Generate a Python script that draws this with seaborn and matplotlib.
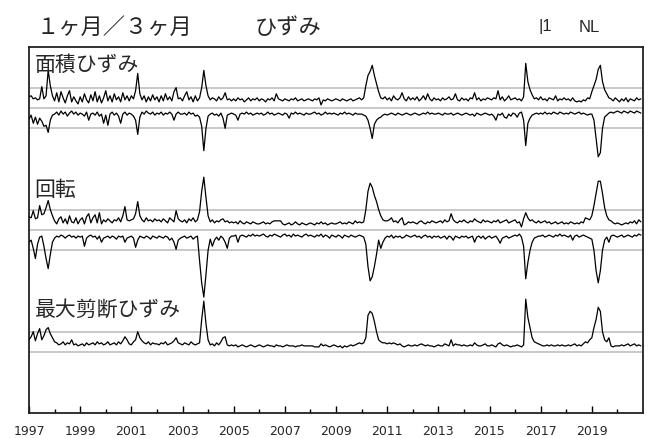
import matplotlib
matplotlib.use("Agg")
import matplotlib.pyplot as plt
import numpy as np
import pandas as pd
import seaborn as sns

# monthly values, Jan 1997 - Dec 2020, one row per year
# offsets from each trace's zero line (1 unit = spacing of the grey guide lines)
area_pos = [
    [0.55, 0.6, 0.45, 0.5, 0.4, 0.45, 1.05, 0.45, 0.6, 1.85, 1.1, 0.6],
    [0.35, 0.75, 0.3, 0.8, 0.5, 0.25, 0.6, 0.85, 0.3, 0.55, 0.35, 0.2],
    [0.55, 0.3, 0.7, 0.4, 0.25, 0.65, 0.35, 0.8, 0.3, 0.6, 0.25, 0.5],
    [0.85, 0.35, 0.6, 0.3, 0.7, 0.4, 0.55, 0.3, 0.75, 0.4, 0.6, 0.35],
    [0.6, 0.45, 0.85, 1.7, 0.7, 0.4, 0.6, 0.3, 0.55, 0.35, 0.65, 0.4],
    [0.55, 0.3, 0.6, 0.35, 0.7, 0.4, 0.55, 0.35, 0.8, 1.0, 0.45, 0.5],
    [0.35, 0.6, 0.8, 0.4, 0.55, 0.3, 0.6, 0.35, 0.5, 1.0, 1.85, 1.1],
    [0.6, 0.4, 0.5, 0.45, 0.35, 0.55, 0.4, 0.5, 0.75, 0.4, 0.45, 0.35],
    [0.45, 0.35, 0.5, 0.4, 0.45, 0.3, 0.4, 0.5, 0.35, 0.45, 0.4, 0.5],
    [0.35, 0.45, 0.4, 0.3, 0.45, 0.4, 0.5, 0.35, 0.7, 0.45, 0.4, 0.35],
    [0.45, 0.4, 0.35, 0.45, 0.4, 0.5, 0.35, 0.4, 0.45, 0.35, 0.4, 0.45],
    [0.4, 0.35, 0.45, 0.4, 0.5, 0.15, 0.4, 0.35, 0.45, 0.4, 0.35, 0.4],
    [0.45, 0.4, 0.35, 0.45, 0.4, 0.35, 0.4, 0.45, 0.35, 0.4, 0.45, 0.5],
    [0.4, 0.5, 1.1, 1.6, 1.8, 2.1, 1.6, 1.2, 0.8, 0.5, 0.45, 0.55],
    [0.4, 0.5, 0.35, 0.6, 0.45, 0.4, 0.5, 0.75, 0.45, 0.35, 0.55, 0.4],
    [0.5, 0.4, 0.55, 0.35, 0.45, 0.6, 0.4, 0.7, 0.45, 0.35, 0.5, 0.4],
    [0.45, 0.35, 0.5, 0.4, 0.45, 0.55, 0.4, 0.45, 0.7, 0.4, 0.35, 0.5],
    [0.4, 0.45, 0.35, 0.5, 0.45, 0.75, 0.4, 0.5, 0.35, 0.45, 0.4, 0.5],
    [0.45, 0.4, 0.5, 0.45, 0.85, 0.4, 0.55, 0.35, 0.45, 0.6, 0.4, 0.45],
    [0.5, 0.4, 0.45, 0.35, 0.55, 2.2, 1.3, 0.9, 0.65, 0.45, 0.5, 0.4],
    [0.55, 0.4, 0.45, 0.35, 0.5, 0.45, 0.4, 0.6, 0.35, 0.45, 0.4, 0.5],
    [0.4, 0.45, 0.35, 0.5, 0.35, 0.3, 0.35, 0.3, 0.4, 0.35, 0.5, 0.45],
    [0.8, 1.1, 1.4, 1.9, 2.1, 1.3, 0.9, 0.7, 0.5, 0.45, 0.35, 0.5],
    [0.4, 0.3, 0.45, 0.35, 0.5, 0.3, 0.45, 0.4, 0.35, 0.5, 0.4, 0.45],
]
area_neg = [
    [-0.55, -0.35, -0.75, -0.45, -0.8, -0.5, -0.65, -0.9, -0.85, -1.2, -0.6, -0.35],
    [-0.3, -0.2, -0.35, -0.15, -0.3, -0.2, -0.4, -0.25, -0.15, -0.3, -0.2, -0.35],
    [-0.25, -0.3, -0.4, -0.2, -0.6, -0.3, -0.25, -0.35, -0.2, -0.4, -0.3, -0.75],
    [-0.35, -0.85, -0.3, -0.2, -0.35, -0.25, -0.4, -0.75, -0.3, -0.2, -0.35, -0.25],
    [-0.3, -0.4, -0.6, -1.3, -0.45, -0.2, -0.3, -0.15, -0.25, -0.3, -0.2, -0.35],
    [-0.25, -0.3, -0.2, -0.35, -0.25, -0.3, -0.2, -0.3, -0.6, -0.3, -0.2, -0.3],
    [-0.3, -0.25, -0.35, -0.2, -0.3, -0.25, -0.4, -0.35, -0.45, -0.9, -2.1, -1.0],
    [-0.4, -0.3, -0.25, -0.35, -0.3, -0.4, -0.25, -0.5, -1.0, -0.35, -0.3, -0.25],
    [-0.3, -0.35, -0.6, -0.3, -0.25, -0.3, -0.2, -0.3, -0.25, -0.35, -0.3, -0.25],
    [-0.3, -0.25, -0.35, -0.3, -0.2, -0.3, -0.25, -0.35, -0.3, -0.25, -0.3, -0.35],
    [-0.25, -0.3, -0.5, -0.25, -0.3, -0.2, -0.3, -0.25, -0.3, -0.35, -0.25, -0.3],
    [-0.3, -0.25, -0.2, -0.3, -0.25, -0.35, -0.3, -0.2, -0.3, -0.25, -0.3, -0.25],
    [-0.3, -0.35, -0.25, -0.3, -0.2, -0.3, -0.25, -0.3, -0.35, -0.25, -0.3, -0.3],
    [-0.3, -0.35, -0.4, -0.6, -1.0, -1.5, -0.8, -0.6, -0.5, -0.45, -0.35, -0.3],
    [-0.35, -0.3, -0.25, -0.3, -0.35, -0.25, -0.3, -0.35, -0.3, -0.25, -0.3, -0.35],
    [-0.3, -0.25, -0.3, -0.35, -0.3, -0.25, -0.3, -0.2, -0.3, -0.25, -0.3, -0.3],
    [-0.25, -0.3, -0.35, -0.25, -0.3, -0.3, -0.25, -0.35, -0.3, -0.25, -0.3, -0.35],
    [-0.3, -0.25, -0.3, -0.35, -0.3, -0.4, -0.25, -0.3, -0.35, -0.3, -0.25, -0.3],
    [-0.35, -0.3, -0.4, -0.6, -0.3, -0.35, -0.25, -0.45, -0.5, -0.3, -0.4, -0.25],
    [-0.3, -0.45, -0.25, -0.2, -0.6, -1.85, -0.75, -0.5, -0.35, -0.3, -0.25, -0.3],
    [-0.25, -0.3, -0.2, -0.3, -0.25, -0.3, -0.2, -0.25, -0.3, -0.2, -0.25, -0.3],
    [-0.25, -0.3, -0.2, -0.25, -0.3, -0.25, -0.2, -0.3, -0.25, -0.3, -0.35, -0.3],
    [-0.3, -0.6, -1.5, -2.4, -2.2, -1.0, -0.45, -0.35, -0.25, -0.2, -0.25, -0.2],
    [-0.15, -0.2, -0.25, -0.15, -0.2, -0.25, -0.15, -0.2, -0.25, -0.15, -0.2, -0.25],
]
rot_pos = [
    [0.65, 0.6, 0.95, 0.55, 0.6, 1.2, 0.75, 0.8, 1.1, 1.45, 1.0, 0.7],
    [0.45, 0.3, 0.55, 0.65, 0.35, 0.55, 0.3, 0.7, 0.4, 0.35, 0.6, 0.3],
    [0.5, 0.6, 0.3, 0.65, 0.8, 0.35, 0.6, 0.75, 0.35, 0.85, 0.3, 0.5],
    [0.4, 0.55, 0.45, 0.35, 0.5, 0.45, 0.6, 0.4, 0.7, 1.15, 0.5, 0.45],
    [0.5, 0.55, 0.8, 1.4, 0.7, 0.5, 0.4, 0.6, 0.45, 0.5, 0.4, 0.55],
    [0.45, 0.5, 0.4, 0.55, 0.45, 0.35, 0.6, 0.5, 0.4, 0.95, 0.55, 0.45],
    [0.4, 0.5, 0.35, 0.55, 0.45, 0.6, 0.4, 0.5, 0.9, 1.9, 2.6, 1.6],
    [0.7, 0.4, 0.5, 0.35, 0.45, 0.4, 0.5, 0.55, 0.4, 0.45, 0.35, 0.4],
    [0.35, 0.4, 0.3, 0.45, 0.35, 0.3, 0.4, 0.35, 0.3, 0.4, 0.35, 0.3],
    [0.3, 0.35, 0.4, 0.3, 0.35, 0.3, 0.4, 0.45, 0.45, 0.45, 0.45, 0.3],
    [0.25, 0.3, 0.35, 0.25, 0.3, 0.4, 0.3, 0.25, 0.35, 0.3, 0.25, 0.3],
    [0.35, 0.3, 0.25, 0.35, 0.3, 0.4, 0.3, 0.35, 0.25, 0.3, 0.35, 0.3],
    [0.3, 0.35, 0.4, 0.3, 0.35, 0.3, 0.4, 0.35, 0.3, 0.45, 0.35, 0.4],
    [0.35, 0.4, 1.0, 1.9, 2.3, 2.1, 1.7, 1.4, 1.0, 0.7, 0.5, 0.45],
    [0.45, 0.5, 0.6, 0.4, 0.45, 0.35, 0.5, 0.6, 0.25, 0.3, 0.4, 0.35],
    [0.4, 0.35, 0.3, 0.4, 0.45, 0.35, 0.3, 0.4, 0.35, 0.45, 0.4, 0.35],
    [0.4, 0.45, 0.35, 0.5, 0.4, 0.45, 0.8, 0.5, 0.4, 0.35, 0.45, 0.4],
    [0.5, 0.4, 0.35, 0.45, 0.4, 0.55, 0.45, 0.4, 0.35, 0.5, 0.4, 0.45],
    [0.4, 0.35, 0.45, 0.4, 0.5, 0.35, 0.4, 0.45, 0.5, 0.35, 0.4, 0.45],
    [0.5, 0.35, 0.4, 0.15, 0.55, 0.85, 0.6, 0.45, 0.5, 0.4, 0.35, 0.45],
    [0.35, 0.4, 0.45, 0.35, 0.4, 0.3, 0.35, 0.4, 0.3, 0.35, 0.4, 0.3],
    [0.35, 0.3, 0.4, 0.35, 0.3, 0.35, 0.3, 0.4, 0.35, 0.6, 0.55, 0.5],
    [0.7, 1.2, 1.8, 2.4, 2.4, 1.8, 1.1, 0.7, 0.5, 0.45, 0.35, 0.3],
    [0.35, 0.3, 0.25, 0.3, 0.35, 0.3, 0.4, 0.35, 0.45, 0.3, 0.5, 0.4],
]
rot_neg = [
    [-0.6, -0.5, -0.9, -1.4, -0.7, -0.35, -0.3, -0.8, -1.4, -1.9, -1.2, -0.6],
    [-0.4, -0.3, -0.35, -0.25, -0.3, -0.4, -0.3, -0.25, -0.35, -0.3, -0.4, -0.3],
    [-0.35, -0.3, -0.8, -0.4, -0.3, -0.25, -0.35, -0.3, -0.45, -0.3, -0.6, -0.4],
    [-0.35, -0.3, -0.4, -0.3, -0.35, -0.45, -0.3, -0.35, -0.3, -0.6, -0.4, -0.35],
    [-0.3, -0.4, -0.85, -0.5, -0.3, -0.35, -0.4, -0.3, -0.35, -0.45, -0.3, -0.35],
    [-0.4, -0.3, -0.35, -0.4, -0.3, -0.35, -0.5, -0.4, -0.6, -0.95, -0.5, -0.4],
    [-0.35, -0.3, -0.4, -0.35, -0.3, -0.45, -0.35, -0.3, -1.5, -2.6, -3.3, -2.2],
    [-1.0, -0.45, -0.8, -0.5, -0.35, -0.5, -0.3, -0.4, -0.6, -0.9, -0.4, -0.3],
    [-0.3, -0.25, -0.6, -0.3, -0.25, -0.3, -0.35, -0.25, -0.3, -0.2, -0.3, -0.25],
    [-0.3, -0.25, -0.2, -0.3, -0.35, -0.25, -0.3, -0.2, -0.25, -0.3, -0.35, -0.25],
    [-0.2, -0.3, -0.25, -0.35, -0.2, -0.3, -0.25, -0.3, -0.35, -0.25, -0.2, -0.3],
    [-0.25, -0.3, -0.35, -0.25, -0.3, -0.2, -0.35, -0.25, -0.3, -0.4, -0.25, -0.3],
    [-0.35, -0.25, -0.3, -0.4, -0.25, -0.3, -0.35, -0.25, -0.3, -0.35, -0.3, -0.25],
    [-0.3, -0.35, -0.7, -1.8, -2.5, -2.3, -1.8, -1.2, -0.5, -0.9, -0.6, -0.4],
    [-0.3, -0.35, -0.25, -0.4, -0.3, -0.35, -0.3, -0.4, -0.35, -0.25, -0.3, -0.35],
    [-0.3, -0.25, -0.35, -0.3, -0.4, -0.3, -0.25, -0.35, -0.3, -0.4, -0.3, -0.35],
    [-0.3, -0.4, -0.35, -0.3, -0.45, -0.3, -0.35, -0.5, -0.3, -0.35, -0.4, -0.3],
    [-0.35, -0.3, -0.4, -0.35, -0.3, -0.6, -0.35, -0.3, -0.4, -0.3, -0.45, -0.35],
    [-0.3, -0.4, -0.35, -0.3, -0.45, -0.65, -0.4, -0.35, -0.3, -0.4, -0.35, -0.3],
    [-0.25, -0.3, -0.2, -0.35, -0.8, -2.4, -1.6, -1.0, -0.6, -0.4, -0.35, -0.3],
    [-0.3, -0.25, -0.35, -0.3, -0.25, -0.3, -0.35, -0.25, -0.3, -0.2, -0.3, -0.25],
    [-0.3, -0.35, -0.25, -0.5, -0.3, -0.25, -0.35, -0.3, -0.25, -0.3, -0.35, -0.4],
    [-0.45, -1.0, -2.0, -2.6, -2.0, -1.0, -0.5, -0.35, -0.6, -0.3, -0.25, -0.3],
    [-0.35, -0.3, -0.25, -0.35, -0.3, -0.25, -0.3, -0.35, -0.25, -0.3, -0.2, -0.25],
]
shear = [
    [0.6, 0.75, 1.0, 0.55, 0.9, 1.15, 0.6, 0.8, 1.1, 1.2, 0.9, 0.7],
    [0.5, 0.45, 0.35, 0.4, 0.5, 0.35, 0.45, 0.4, 0.6, 0.35, 0.4, 0.3],
    [0.35, 0.4, 0.3, 0.45, 0.35, 0.4, 0.45, 0.35, 0.5, 0.4, 0.45, 0.35],
    [0.4, 0.5, 0.35, 0.4, 0.45, 0.35, 0.5, 0.4, 0.55, 0.75, 0.6, 0.4],
    [0.35, 0.5, 0.6, 1.0, 0.7, 0.55, 0.45, 0.4, 0.5, 0.35, 0.45, 0.4],
    [0.4, 0.35, 0.45, 0.4, 0.5, 0.35, 0.4, 0.45, 0.55, 0.7, 0.45, 0.4],
    [0.35, 0.45, 0.4, 0.35, 0.5, 0.4, 0.35, 0.4, 0.45, 1.6, 2.5, 1.4],
    [0.6, 0.35, 0.4, 0.3, 0.45, 0.35, 0.5, 0.7, 0.75, 0.35, 0.3, 0.35],
    [0.3, 0.35, 0.25, 0.3, 0.35, 0.3, 0.25, 0.3, 0.35, 0.3, 0.25, 0.3],
    [0.35, 0.3, 0.25, 0.3, 0.35, 0.3, 0.3, 0.25, 0.35, 0.3, 0.3, 0.25],
    [0.3, 0.35, 0.3, 0.3, 0.3, 0.25, 0.3, 0.3, 0.35, 0.3, 0.3, 0.3],
    [0.3, 0.3, 0.25, 0.25, 0.25, 0.4, 0.3, 0.35, 0.3, 0.25, 0.3, 0.35],
    [0.3, 0.25, 0.3, 0.2, 0.3, 0.25, 0.3, 0.35, 0.3, 0.35, 0.4, 0.45],
    [0.4, 0.45, 0.7, 1.8, 2.0, 1.9, 1.5, 1.0, 0.6, 0.5, 0.45, 0.45],
    [0.4, 0.45, 0.4, 0.45, 0.4, 0.35, 0.4, 0.3, 0.25, 0.3, 0.35, 0.3],
    [0.3, 0.35, 0.3, 0.35, 0.4, 0.35, 0.3, 0.35, 0.3, 0.3, 0.25, 0.3],
    [0.35, 0.3, 0.3, 0.4, 0.35, 0.3, 0.6, 0.3, 0.4, 0.35, 0.35, 0.3],
    [0.35, 0.3, 0.3, 0.35, 0.3, 0.45, 0.35, 0.3, 0.3, 0.35, 0.4, 0.3],
    [0.3, 0.35, 0.3, 0.25, 0.4, 0.45, 0.35, 0.3, 0.35, 0.3, 0.25, 0.3],
    [0.3, 0.35, 0.3, 0.25, 0.35, 2.6, 1.7, 1.2, 0.7, 0.5, 0.45, 0.4],
    [0.35, 0.3, 0.3, 0.35, 0.3, 0.35, 0.3, 0.3, 0.35, 0.3, 0.35, 0.3],
    [0.3, 0.35, 0.3, 0.35, 0.4, 0.3, 0.35, 0.3, 0.4, 0.5, 0.45, 0.6],
    [0.7, 1.2, 1.6, 2.2, 2.0, 1.0, 0.6, 0.5, 0.7, 0.3, 0.25, 0.3],
    [0.3, 0.3, 0.35, 0.3, 0.35, 0.4, 0.3, 0.35, 0.4, 0.3, 0.35, 0.3],
]

panel_names = ["面積ひずみ", "回転", "最大剪断ひずみ"]
year_ticks = list(range(1997, 2021, 2))
minor_ticks = list(range(1998, 2021, 2))

# month positions in decimal years
t = 1997 + np.arange(24 * 12) / 12

# (series, zero line)
traces = [(area_pos, 15), (area_neg, 15), (rot_pos, 9), (rot_neg, 9), (shear, 3)]
guides = [16, 15, 14, 10, 9, 8, 4, 3]
label_y = [17.15, 11.0, 5.1]

sns.set_style("white")
plt.rcParams['font.family'] = ['Noto Sans CJK JP', 'DejaVu Sans']

fig = plt.figure(figsize=(6.48, 4.39), dpi=100)
ax = fig.add_axes([29 / 648, 25 / 439, 614 / 648, 366 / 439])

for g in guides:
    ax.axhline(g, color='#c4c4c4', lw=1.3, zorder=1)

for vals, zero in traces:
    df = pd.DataFrame({'t': t, 'v': zero + np.array(vals).ravel()})
    sns.lineplot(data=df, x='t', y='v', color='black', lw=0.9, ax=ax, zorder=3)

for name, y in zip(panel_names, label_y):
    ax.text(1997.22, y, name, fontsize=15, va='center', ha='left', zorder=4)

ax.set_xlim(1997, 2021)
ax.set_ylim(0, 18)
ax.set_xlabel('')
ax.set_ylabel('')
ax.set_yticks([])
ax.set_xticks(year_ticks)
ax.set_xticks(minor_ticks, minor=True)
ax.set_xticklabels([str(y) for y in year_ticks], fontfamily='DejaVu Sans', fontsize=9)
ax.tick_params(axis='x', which='major', direction='in', length=5, width=1, pad=8, color='black')
ax.tick_params(axis='x', which='minor', direction='in', length=3, width=1, color='black')
ax.tick_params(axis='x', which='both', bottom=True)
for s in ax.spines.values():
    s.set_visible(True)
    s.set_color('#222222')
    s.set_linewidth(1.3)

# title line
ty = 1 - 27 / 439
fig.text(37 / 648, ty, "１ヶ月／３ヶ月", fontsize=16, va='center', ha='left')
fig.text(255 / 648, ty, "ひずみ", fontsize=16, va='center', ha='left')
fig.text(538 / 648, ty, "|1", fontsize=12, va='center', ha='left',
         family=['Liberation Sans Narrow', 'Liberation Sans'])
fig.text(579 / 648, ty, "NL", fontsize=12, va='center', ha='left',
         family=['Liberation Sans Narrow', 'Liberation Sans'])

fig.savefig('out.png', dpi=100, facecolor='white')
